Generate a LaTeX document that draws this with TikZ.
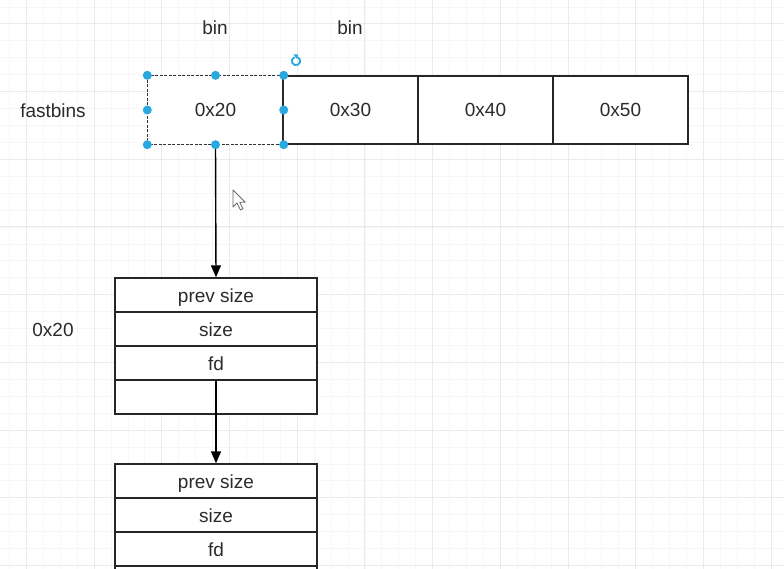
\documentclass[tikz,border=0pt]{standalone}
\usepackage{fontspec}
\setmainfont{Liberation Sans}
\usetikzlibrary{arrows.meta}
\definecolor{handleblue}{HTML}{29A8E0}
\definecolor{inkgray}{HTML}{2B2B2B}
\tikzset{
  every node/.style={font=\fontsize{19}{22}\selectfont, text=inkgray, text height=15pt, text depth=1pt},
  bincell/.style={draw=black!85, fill=white, line width=1.4pt, minimum width=135pt, minimum height=68pt, inner sep=0pt},
  chunkrow/.style={draw=black!85, fill=white, line width=1.4pt, minimum width=202pt, minimum height=34pt, inner sep=0pt},
  link/.style={draw=black, line width=1.4pt, -{Triangle[length=12pt, width=10pt]}},
  minorgrid/.style={draw=black!3, line width=0.6pt},
  majorgrid/.style={draw=black!8, line width=0.8pt},
  handle/.style={fill=handleblue, draw=none},
}
\begin{document}
\begin{tikzpicture}[x=1pt, y=-1pt]
  \useasboundingbox (0,0) rectangle (784,569);
  \clip (0,0) rectangle (784,569);
  \fill[white] (0,0) rectangle (784,569);

  % background grid
  \foreach \k in {0,...,47} \draw[minorgrid] ({-7.55+16.925*\k},0) -- ++(0,569);
  \foreach \k in {0,...,35} \draw[minorgrid] (0,{-10.05+16.925*\k}) -- ++(784,0);
  \foreach \k in {0,...,11} \draw[majorgrid] ({26.3+67.7*\k},0) -- ++(0,569);
  \foreach \k in {0,...,8} \draw[majorgrid] (0,{23.8+67.7*\k}) -- ++(784,0);

  % labels
  \node (binA) at (215,28) {bin};
  \node (binB) at (350,28) {bin};
  \node (fastbins) at (53,111) {fastbins};
  \node (size20) at (53,329) {0x20};

  % fastbins array
  \node[bincell, draw=none] (c20) at (215.5,110) {0x20};
  \node[bincell] (c30) at (350.5,110) {0x30};
  \node[bincell] (c40) at (485.5,110) {0x40};
  \node[bincell] (c50) at (620.5,110) {0x50};
  \draw[black!80, line width=1.4pt, dash pattern=on 3pt off 1.5pt] (c20.north west) rectangle (c20.south east);

  % first chunk
  \node[chunkrow] (prev1) at (216,295) {prev size};
  \node[chunkrow] (size1) at (216,329) {size};
  \node[chunkrow] (fd1) at (216,363) {fd};
  \node[chunkrow] (pad1) at (216,397) {};

  % second chunk
  \node[chunkrow] (prev2) at (216,481) {prev size};
  \node[chunkrow] (size2) at (216,515) {size};
  \node[chunkrow] (fd2) at (216,549) {fd};
  \node[chunkrow] (pad2) at (216,583) {};

  \draw[link] (c20.south) -- (prev1.north);
  \draw[link] (fd1.south) -- (prev2.north);

  % selection handles
  \foreach \a in {north west, north, north east, east, south east, south, south west, west}
    \fill[handle] (c20.\a) circle (4.5pt);
  \draw[handleblue, line width=1.8pt] (296,61) ++(70:4.2pt) arc (70:-250:4.2pt);
  \fill[handleblue] (293.5,54.5) -- ++(4.5,0) -- ++(-1,4.5) -- cycle;

  % mouse pointer
  \draw[black!60, fill=white, line width=0.8pt, line join=round]
    (233,190) -- ++(0,17) -- ++(4,-4) -- ++(3.5,7) -- ++(2.5,-1.2) -- ++(-3.3,-6.6) -- ++(5.5,0) -- cycle;
\end{tikzpicture}
\end{document}
